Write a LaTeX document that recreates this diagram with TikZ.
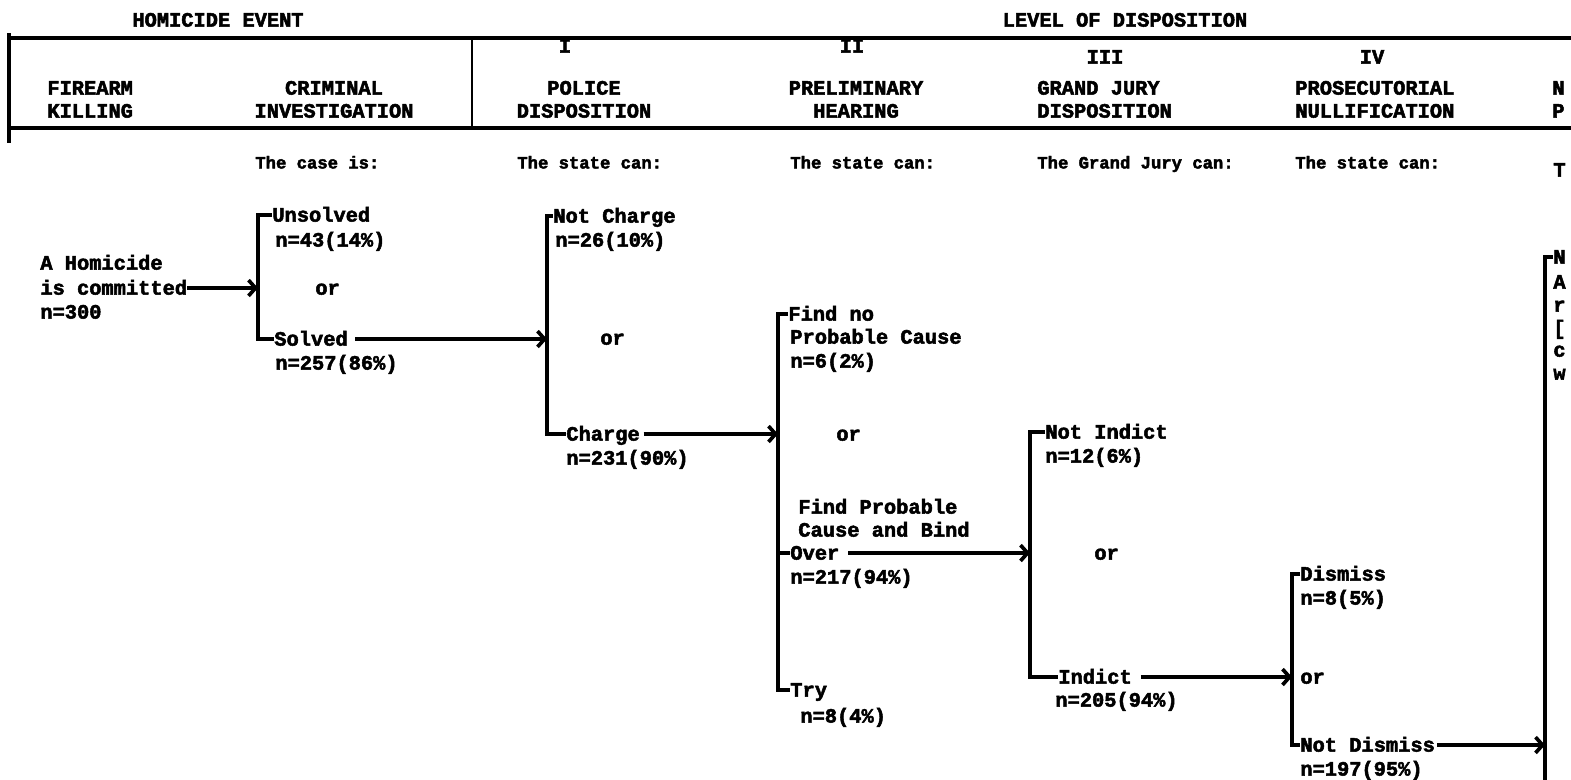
\documentclass[tikz,border=0pt]{standalone}
\usepackage{fontspec}
\usetikzlibrary{arrows.meta,positioning}
\newfontfamily\twfont[FakeBold=2.5]{Liberation Mono Bold}
\newcommand{\twbody}{\twfont\fontsize{11.6}{14}\selectfont}
\newcommand{\twsmall}{\twfont\fontsize{9.8}{12}\selectfont}

\begin{document}
\begin{tikzpicture}[x=0.02cm, y=-0.02cm,
    txt/.style={font=\twbody, inner sep=0pt, anchor=west, text height=7.5pt, text depth=0pt},
    ctxt/.style={txt, anchor=center},
    sub/.style={font=\twsmall, inner sep=0pt, anchor=west, text height=6.2pt, text depth=0pt},
    rule/.style={line width=2.2pt},
    brk/.style={line width=2.4pt},
    arr/.style={line width=2.1pt, -{Straight Barb[length=4pt,width=9pt]}}]
    \useasboundingbox (0,0) rectangle (1571,779);
    \clip (0,0) rectangle (1571,779);

    % Header frame
    \node[ctxt] (hevent) at (218,20) {HOMICIDE EVENT};
    \node[ctxt] (level) at (1125,20) {LEVEL OF DISPOSITION};
    \draw[rule] (9,33) -- (9,143);
    \draw[rule] (9,38) -- (1571,38);
    \draw[rule] (9,128) -- (1571,128);
    \draw[line width=1.5pt] (472,38) -- (472,128);

    % Level numbers
    \node[ctxt] (lvI) at (565,46) {I};
    \node[ctxt] (lvII) at (852,46) {II};
    \node[ctxt] (lvIII) at (1105,57) {III};
    \node[ctxt] (lvIV) at (1372,57) {IV};

    % Column headings
    \node[txt] (fire1) at (47,88) {FIREARM};
    \node[txt] (fire2) at (47,111) {KILLING};
    \node[ctxt] (crim1) at (334,88) {CRIMINAL};
    \node[ctxt] (crim2) at (334,111) {INVESTIGATION};
    \node[ctxt] (pol1) at (584,88) {POLICE};
    \node[ctxt] (pol2) at (584,111) {DISPOSITION};
    \node[ctxt] (pre1) at (856,88) {PRELIMINARY};
    \node[ctxt] (pre2) at (856,111) {HEARING};
    \node[txt] (gj1) at (1037,88) {GRAND JURY};
    \node[txt] (gj2) at (1037,111) {DISPOSITION};
    \node[txt] (pro1) at (1295,88) {PROSECUTORIAL};
    \node[txt] (pro2) at (1295,111) {NULLIFICATION};
    \node[txt] (np1) at (1552,88) {N};
    \node[txt] (np2) at (1552,111) {P};

    % Column subtitles
    \node[sub] (subcase) at (255,163) {The case is:};
    \node[sub] (subpol) at (517,163) {The state can:};
    \node[sub] (subpre) at (790,163) {The state can:};
    \node[sub] (subgj) at (1037,163) {The Grand Jury can:};
    \node[sub] (subpro) at (1295,163) {The state can:};
    \node[txt] (subnext) at (1553,170) {T};

    % Bracket positions
    \coordinate (b1) at (258,0);
    \coordinate (b2) at (547,0);
    \coordinate (b3) at (778,0);
    \coordinate (b4) at (1030,0);
    \coordinate (b5) at (1292,0);
    \coordinate (b6) at (1545,790);

    % Event
    \node[txt] (homicide) at (40,263) {A Homicide};
    \node[txt] (committed) at (40,288) {is committed};
    \node[txt] (n300) at (40,312) {n=300};

    % I: investigation
    \node[txt] (unsolved) at (272,215) {Unsolved};
    \node[txt] (nunsolved) at (275,240) {n=43(14\%)};
    \node[txt] (or1) at (315,288) {or};
    \node[txt] (solved) at (274,339) {Solved};
    \node[txt] (nsolved) at (275,363) {n=257(86\%)};

    % II: police
    \node[txt] (notcharge) at (553,216) {Not Charge};
    \node[txt] (nnotcharge) at (555,240) {n=26(10\%)};
    \node[txt] (or2) at (600,338) {or};
    \node[txt] (charge) at (566,434) {Charge};
    \node[txt] (ncharge) at (566,458) {n=231(90\%)};

    % III: preliminary hearing
    \node[txt] (findno) at (788,314) {Find no};
    \node[txt] (findno2) at (790,337) {Probable Cause};
    \node[txt] (nfindno) at (790,361) {n=6(2\%)};
    \node[txt] (or3) at (836,434) {or};
    \node[txt] (bind1) at (798,507) {Find Probable};
    \node[txt] (bind2) at (798,530) {Cause and Bind};
    \node[txt] (over) at (790,553) {Over};
    \node[txt] (nover) at (790,577) {n=217(94\%)};
    \node[txt] (try) at (790,690) {Try};
    \node[txt] (ntry) at (800,716) {n=8(4\%)};

    % IV: grand jury
    \node[txt] (notind) at (1045,432) {Not Indict};
    \node[txt] (nnotind) at (1045,456) {n=12(6\%)};
    \node[txt] (or4) at (1094,553) {or};
    \node[txt] (indict) at (1058,677) {Indict};
    \node[txt] (nindict) at (1055,700) {n=205(94\%)};

    % V: prosecutor
    \node[txt] (dismiss) at (1300,574) {Dismiss};
    \node[txt] (ndismiss) at (1300,598) {n=8(5\%)};
    \node[txt] (or5) at (1300,677) {or};
    \node[txt] (notdis) at (1300,745) {Not Dismiss};
    \node[txt] (nnotdis) at (1300,769) {n=197(95\%)};

    % next column (cut off)
    \node[txt] (fragN) at (1553,257) {N};
    \node[txt] (fragA) at (1553,282) {A};
    \node[txt] (fragR) at (1553,305) {r};
    \node[txt] (fragB) at (1553,328) {[};
    \node[txt] (fragC) at (1553,350) {c};
    \node[txt] (fragW) at (1553,373) {w};

    % Brackets
    \draw[brk] (unsolved.west) -- (unsolved -| b1) |- (solved.west);
    \draw[brk] (notcharge.west) -- (notcharge -| b2) |- (charge.west);
    \draw[brk] (findno.west) -- (findno -| b3) |- (try.west);
    \draw[brk] (over -| b3) -- (over.west);
    \draw[brk] (notind.west) -- (notind -| b4) |- (indict.west);
    \draw[brk] (dismiss.west) -- (dismiss -| b5) |- (notdis.west);
    \draw[brk] (fragN.west) -- (fragN -| b6) -- (b6);

    % Flow arrows
    \draw[arr] (committed.east) -- (committed -| b1);
    \draw[arr, shorten <=4pt] (solved.east) -- (solved -| b2);
    \draw[arr, shorten <=2pt] (charge.east) -- (charge -| b3);
    \draw[arr, shorten <=5pt] (over.east) -- (over -| b4);
    \draw[arr, shorten <=5pt] (indict.east) -- (indict -| b5);
    \draw[arr, shorten <=1pt] (notdis.east) -- (notdis -| b6);
\end{tikzpicture}
\end{document}
